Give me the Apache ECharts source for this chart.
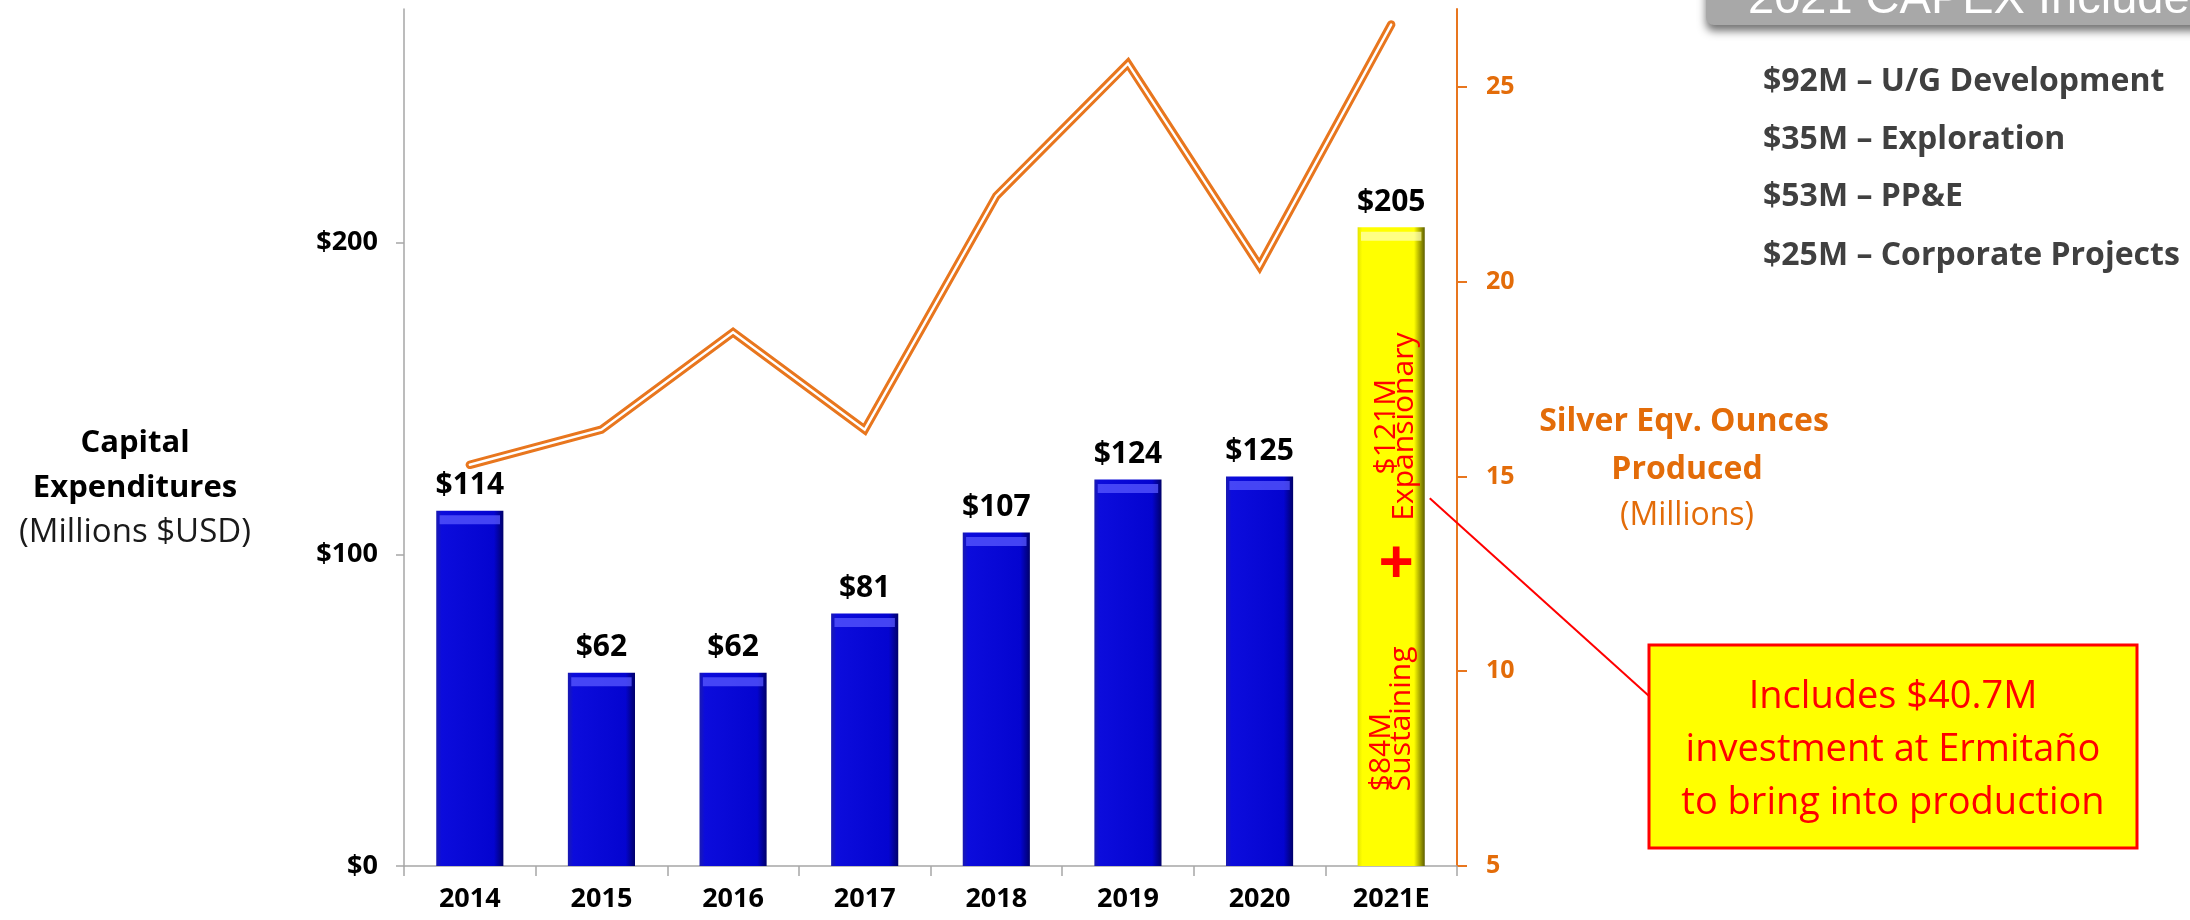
<!DOCTYPE html>
<html>
<head>
<meta charset="utf-8">
<script src="https://cdn.jsdelivr.net/npm/echarts@6/dist/echarts.min.js"></script>
<style>
  html, body { margin: 0; padding: 0; background: #fff; }
  #chart { width: 2190px; height: 920px; }
</style>
</head>
<body>
<div id="chart"></div>
<script>
// data
const years = ['2014', '2015', '2016', '2017', '2018', '2019', '2020', '2021E'];
const capex = [114, 62, 62, 81, 107, 124, 125, 205];            // millions USD
const silverEqOz = [15.3, 16.2, 18.7, 16.2, 22.2, 25.6, 20.4, 26.6]; // millions oz
const capex2021Split = ['$121M\nExpansionary', '$84M\nSustaining'];
const capex2021Items = ['$92M – U/G Development', '$35M – Exploration', '$53M – PP&E', '$25M – Corporate Projects'];
const ermitanoNote = 'Includes $40.7M\ninvestment at Ermitaño\nto bring into production';

const FONT = '"Open Sans", "Liberation Sans", sans-serif';
const ORANGE = '#E8761E';
const ORANGE_TXT = '#E36C09';
const GRID_GRAY = '#a6a6a6';

const blueBar = {
  type: 'linear', x: 0, y: 0, x2: 1, y2: 0,
  colorStops: [
    { offset: 0, color: '#1a1ab0' },
    { offset: 0.08, color: '#0c0cdc' },
    { offset: 0.86, color: '#0404d0' },
    { offset: 1, color: '#00006a' }
  ]
};
const yellowBar = {
  type: 'linear', x: 0, y: 0, x2: 1, y2: 0,
  colorStops: [
    { offset: 0, color: '#e4e400' },
    { offset: 0.07, color: '#ffff00' },
    { offset: 0.84, color: '#ffff00' },
    { offset: 1, color: '#5e5e00' }
  ]
};
const isLast = i => i === capex.length - 1;

const chart = echarts.init(document.getElementById('chart'));

chart.setOption({
  animation: false,
  backgroundColor: '#fff',
  grid: { left: 404, right: 733, top: 9, bottom: 54, outerBoundsMode: 'none' },
  xAxis: {
    type: 'category',
    data: years,
    axisLine: { show: true, lineStyle: { color: GRID_GRAY, width: 1.5 } },
    axisTick: { show: true, length: 10, lineStyle: { color: GRID_GRAY, width: 1.5 } },
    axisLabel: { interval: 0, margin: 20, color: '#000', fontFamily: FONT, fontWeight: 'bold', fontSize: 27 },
    splitLine: { show: false }
  },
  yAxis: [
    {
      type: 'value', min: 0, max: 275, interval: 100,
      axisLine: { show: true, lineStyle: { color: GRID_GRAY, width: 1.5 } },
      axisTick: { show: true, length: 8, lineStyle: { color: GRID_GRAY, width: 1.5 } },
      axisLabel: {
        margin: 26, color: '#000', fontFamily: FONT, fontWeight: 'bold', fontSize: 27,
        showMaxLabel: false,
        formatter: v => (v % 100 === 0 ? '$' + v : '')
      },
      splitLine: { show: false }
    },
    {
      type: 'value', position: 'right', min: 5, max: 27, interval: 5,
      axisLine: { show: true, lineStyle: { color: ORANGE, width: 2 } },
      axisTick: { show: true, length: 10, lineStyle: { color: ORANGE, width: 2 } },
      axisLabel: {
        margin: 29, color: ORANGE_TXT, fontFamily: FONT, fontWeight: 'bold', fontSize: 25,
        showMaxLabel: false,
        formatter: v => (v % 5 === 0 && v <= 25 ? String(v) : '')
      },
      splitLine: { show: false }
    }
  ],
  series: [
    {
      name: 'Capital Expenditures',
      type: 'bar',
      barWidth: '51%',
      data: capex.map((v, i) => ({
        value: v,
        itemStyle: { color: isLast(i) ? yellowBar : blueBar }
      })),
      label: {
        show: true, position: 'top', distance: 10,
        color: '#000', fontFamily: FONT, fontWeight: 'bold', fontSize: 30,
        formatter: p => '$' + p.value
      },
      z: 2
    },
    {
      // lighter bevel strip along the top of each bar
      type: 'pictorialBar',
      barWidth: '51%',
      symbol: 'rect',
      symbolPosition: 'end',
      symbolSize: ['90%', 9],
      symbolOffset: [0, '50%'],
      data: capex.map((v, i) => ({
        value: v,
        itemStyle: { color: isLast(i) ? 'rgba(255,255,190,0.7)' : 'rgba(90,90,255,0.75)' }
      })),
      silent: true,
      z: 2.5
    },
    {
      // orange outer stroke of the double line
      name: 'Silver Eqv. Ounces',
      type: 'line',
      yAxisIndex: 1,
      data: silverEqOz,
      symbol: 'none',
      lineStyle: { color: ORANGE, width: 8.5, cap: 'round', join: 'miter' },
      z: 3
    },
    {
      // white inner stripe
      type: 'line',
      yAxisIndex: 1,
      data: silverEqOz,
      symbol: 'none',
      lineStyle: { color: '#fff', width: 2.4, cap: 'round', join: 'miter' },
      z: 4
    }
  ]
});

// positions inside the 2021E bar come from the chart's own scales
const last = years[years.length - 1];
const px = v => chart.convertToPixel({ xAxisIndex: 0, yAxisIndex: 0 }, [last, v]);
const expPos = px(141);
const susPos = px(24);
const plusPos = px(96);
const linkPos = px(118);
const barHalf = chart.getModel().getSeriesByIndex(0).getData().getItemLayout(7).width / 2;

const graphics = [
  // left axis title
  { type: 'text', x: 135, y: 443, style: { text: 'Capital', fill: '#000', font: 'bold 31px ' + FONT, align: 'center', verticalAlign: 'middle' } },
  { type: 'text', x: 135, y: 488, style: { text: 'Expenditures', fill: '#000', font: 'bold 31px ' + FONT, align: 'center', verticalAlign: 'middle' } },
  { type: 'text', x: 135, y: 533, style: { text: '(Millions $USD)', fill: '#1a1a1a', font: '33px ' + FONT, align: 'center', verticalAlign: 'middle' } },
  // right axis title
  { type: 'text', x: 1684, y: 422, style: { text: 'Silver Eqv. Ounces', fill: ORANGE_TXT, font: 'bold 32px ' + FONT, align: 'center', verticalAlign: 'middle' } },
  { type: 'text', x: 1687, y: 470, style: { text: 'Produced', fill: ORANGE_TXT, font: 'bold 32px ' + FONT, align: 'center', verticalAlign: 'middle' } },
  { type: 'text', x: 1687, y: 516, style: { text: '(Millions)', fill: ORANGE_TXT, font: '32px ' + FONT, align: 'center', verticalAlign: 'middle' } },
  // 2021E split, written up the yellow bar
  { type: 'text', x: expPos[0] + 4, y: expPos[1], rotation: Math.PI / 2, z: 100,
    style: { text: capex2021Split[0], fill: '#ff0000', font: '30px ' + FONT, align: 'center', verticalAlign: 'middle', lineHeight: 18 } },
  { type: 'text', x: plusPos[0] + 5, y: plusPos[1], z: 100,
    style: { text: '+', fill: '#ff0000', font: 'bold 62px ' + FONT, align: 'center', verticalAlign: 'middle' } },
  { type: 'text', x: susPos[0], y: susPos[1], rotation: Math.PI / 2, z: 100,
    style: { text: capex2021Split[1], fill: '#ff0000', font: '30px ' + FONT, align: 'left', verticalAlign: 'middle', lineHeight: 20 } },
  // callout
  { type: 'line', z: 100, shape: { x1: linkPos[0] + barHalf + 5, y1: linkPos[1], x2: 1649, y2: 696 },
    style: { stroke: '#ff0000', lineWidth: 2 } },
  { type: 'rect', z: 100, shape: { x: 1649, y: 645, width: 488, height: 203 },
    style: { fill: '#ffff00', stroke: '#ff0000', lineWidth: 3 } },
  { type: 'text', z: 101, x: 1893, y: 750,
    style: { text: ermitanoNote, fill: '#ff0000', font: '38px ' + FONT, align: 'center', verticalAlign: 'middle', lineHeight: 53 } },
  // header bar, cut by the top edge
  { type: 'rect', z: 100, shape: { x: 1706, y: -30, width: 520, height: 55, r: 8 },
    style: { fill: '#a8a8a8', shadowBlur: 8, shadowOffsetY: 6, shadowColor: 'rgba(0,0,0,0.55)' } },
  { type: 'text', z: 101, x: 1748, y: 0,
    style: { text: '2021 CAPEX Includes:', fill: '#fff', font: '47px "Liberation Sans", Arial, sans-serif', align: 'left', verticalAlign: 'middle' } }
];

capex2021Items.forEach((t, i) => {
  graphics.push({
    type: 'text', x: 1763, y: [82, 140, 197, 256][i],
    style: { text: t, fill: '#404040', font: 'bold 32px ' + FONT, align: 'left', verticalAlign: 'middle' }
  });
});

chart.setOption({ graphic: graphics });
</script>
</body>
</html>
